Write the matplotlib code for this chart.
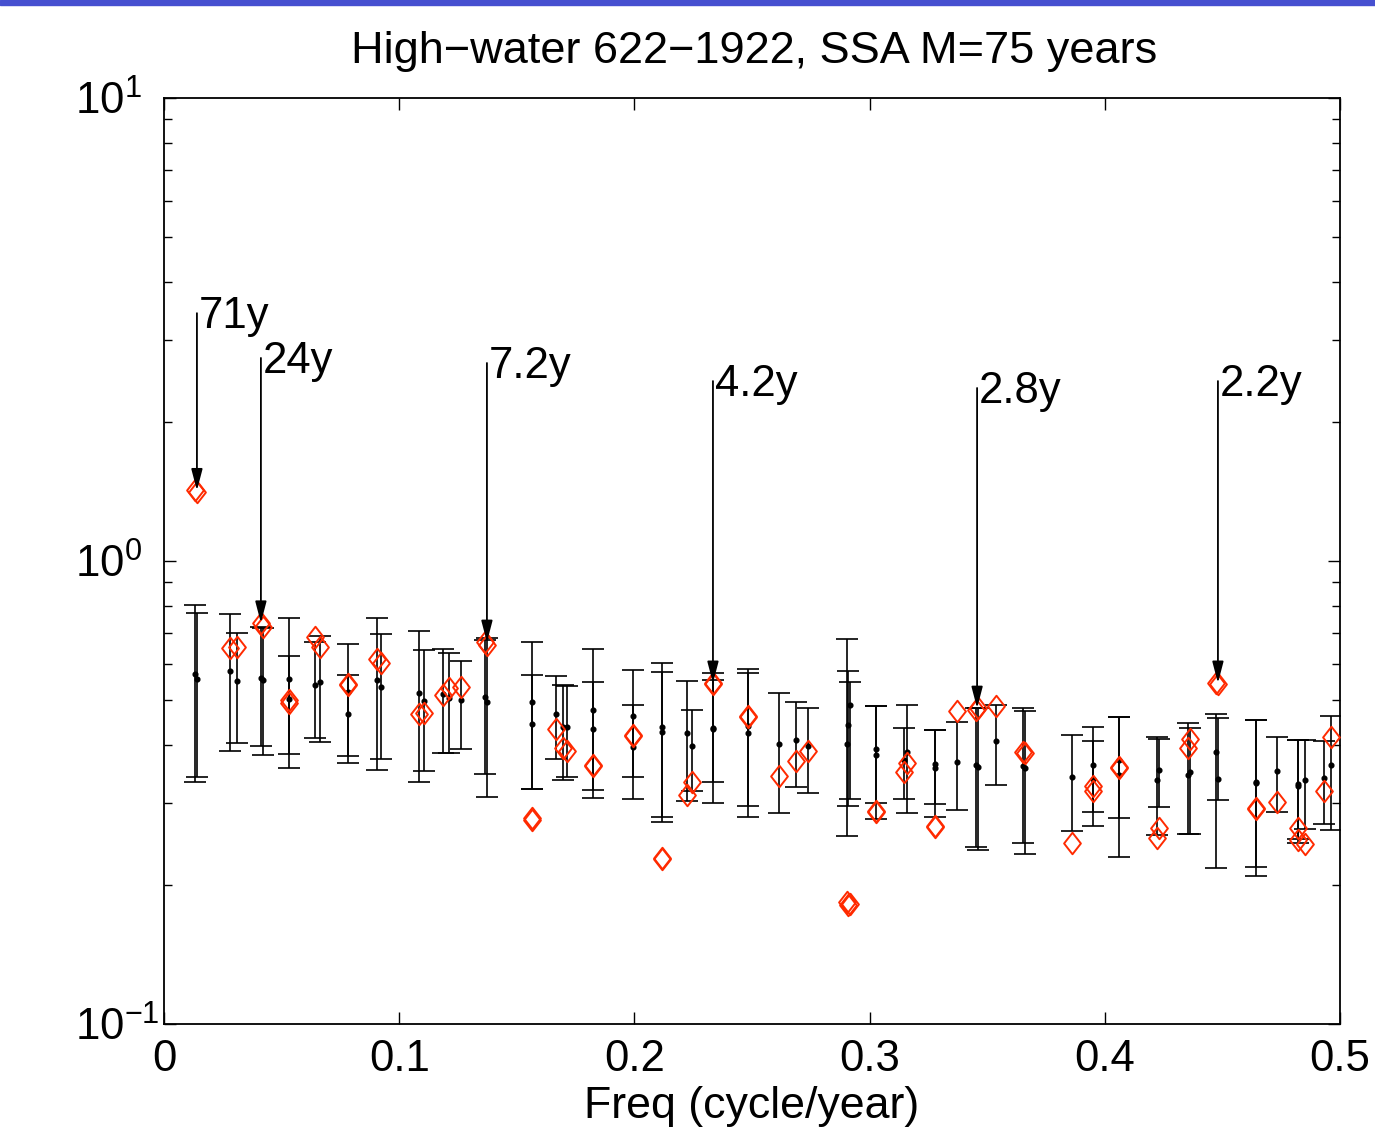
import matplotlib
matplotlib.use("Agg")
import matplotlib.pyplot as plt
import numpy as np
from matplotlib.path import Path
from matplotlib.patches import Rectangle

plt.rcParams['font.family'] = ['Liberation Sans', 'DejaVu Sans']
plt.rcParams['mathtext.fontset'] = 'custom'
plt.rcParams['mathtext.rm'] = 'Liberation Sans'
plt.rcParams['mathtext.it'] = 'Liberation Sans'
plt.rcParams['mathtext.default'] = 'regular'

title = "High\u2212water 622\u22121922, SSA M=75 years"
xlabel = "Freq (cycle/year)"

freq = [0.0132, 0.0140, 0.0281, 0.0310, 0.0412, 0.0421, 0.0531, 0.0532, 0.0642, 0.0663,
        0.0782, 0.0783, 0.0906, 0.0923, 0.1084, 0.1105, 0.1186, 0.1212, 0.1263, 0.1365,
        0.1373, 0.1564, 0.1565, 0.1667, 0.1696, 0.1713, 0.1823, 0.1824, 0.1993, 0.1994,
        0.2117, 0.2118, 0.2224, 0.2245, 0.2333, 0.2334, 0.2482, 0.2483, 0.2615, 0.2687,
        0.2738, 0.2906, 0.2908, 0.2917, 0.3026, 0.3027, 0.3146, 0.3159, 0.3277, 0.3278,
        0.3372, 0.3452, 0.3461, 0.3537, 0.3652, 0.3661, 0.3861, 0.3950, 0.3951, 0.4060,
        0.4061, 0.4222, 0.4230, 0.4354, 0.4362, 0.4473, 0.4481, 0.4642, 0.4643, 0.4732,
        0.4821, 0.4822, 0.4851, 0.4932, 0.4962]

center = [.570, .556, .579, .551, .559, .553, .556, .503, .540, .548,
          .521, .467, .553, .534, .519, .498, .516, .506, .501, .509,
          .496, .496, .444, .467, .438, .438, .477, .434, .463, .397,
          .438, .427, .425, .398, .436, .434, .440, .425, .402, .411,
          .398, .402, .442, .489, .393, .381, .372, .387, .364, .357,
          .368, .363, .359, .409, .361, .357, .342, .363, .338, .372,
          .345, .337, .354, .345, .350, .387, .338, .333, .332, .352,
          .330, .327, .337, .340, .363]

upper = [.804, .772, .768, .699, .720, .717, .753, .624, .668, .689,
         .662, .567, .753, .696, .706, .642, .645, .633, .608, .675,
         .682, .668, .567, .564, .540, .537, .645, .548, .581, .489,
         .602, .576, .551, .477, .573, .553, .584, .573, .519, .496,
         .481, .678, .579, .548, .486, .486, .436, .489, .432, .432,
         .449, .481, .481, .489, .481, .474, .421, .438, .409, .460,
         .460, .417, .413, .447, .436, .467, .458, .453, .453, .417,
         .411, .411, .411, .409, .463]

lower = [.333, .342, .389, .404, .398, .381, .357, .383, .415, .406,
         .366, .379, .354, .374, .333, .352, .385, .385, .393, .347,
         .309, .322, .322, .374, .337, .342, .308, .320, .306, .342,
         .280, .273, .303, .319, .300, .333, .280, .296, .286, .325,
         .315, .255, .296, .306, .300, .277, .306, .286, .299, .280,
         .290, .241, .238, .328, .246, .233, .261, .287, .268, .279,
         .229, .256, .294, .257, .257, .217, .305, .218, .209, .287,
         .251, .246, .264, .270, .262]

diamond = [1.42, 1.41, .649, .652, .735, .720, .493, .501, .686, .652,
           .542, .540, .614, .602, .467, .470, .514, .532, .534, .668,
           .659, .279, .276, .434, .395, .389, .363, .361, .421, .419,
           .228, .227, .312, .333, .545, .543, .463, .460, .343, .370,
           .389, .183, .181, .182, .288, .287, .350, .366, .268, .267,
           .474, .477, .481, .486, .387, .385, .246, .327, .319, .359,
           .357, .252, .265, .395, .413, .545, .543, .293, .292, .302,
           .265, .250, .245, .319, .417]

ann_labels = ['71y', '24y', '7.2y', '4.2y', '2.8y', '2.2y']
ann_freq = [0.0140, 0.0412, 0.1373, 0.2334, 0.3457, 0.4481]
ann_tail = [3.43, 2.745, 2.677, 2.447, 2.364, 2.447]
ann_head = [1.42, 0.735, 0.668, 0.545, 0.481, 0.545]

xticks = [0, 0.1, 0.2, 0.3, 0.4, 0.5]
xtick_labels = ['0', '0.1', '0.2', '0.3', '0.4', '0.5']
yticks = [0.1, 1, 10]
ytick_labels = [r'$10^{-1}$', r'$10^{0}$', r'$10^{1}$']

FS = 31.5
RED = '#ff2a00'

fig = plt.figure(figsize=(13.75, 11.39), dpi=100)
fig.patch.set_facecolor('white')
ax = fig.add_axes([164/1375, 1 - 1024/1139, (1340-164)/1375, (1024-98)/1139])

f = np.array(freq)
c = np.array(center)
lo = np.array(lower)
hi = np.array(upper)
ax.errorbar(f, c, yerr=[c - lo, hi - c], fmt='o', color='k', ms=3.4,
            elinewidth=1.2, capsize=7.8, capthick=1.2, zorder=2)

dpath = Path([(0, 1), (0.78, 0), (0, -1), (-0.78, 0), (0, 1)],
             [Path.MOVETO, Path.LINETO, Path.LINETO, Path.LINETO, Path.CLOSEPOLY])
ax.plot(f, diamond, linestyle='none', marker=dpath, ms=15.5, mfc='none',
        mec=RED, mew=1.4, zorder=3)

for lab, x, yt, yh in zip(ann_labels, ann_freq, ann_tail, ann_head):
    ax.annotate('', xy=(x, yh), xytext=(x, yt),
                arrowprops=dict(arrowstyle='-|>,head_length=0.65,head_width=0.17',
                                mutation_scale=20, color='k', lw=1.3,
                                shrinkA=0, shrinkB=0), zorder=4)
    ax.annotate(lab, xy=(x, yt), xytext=(1.5, -2.5), textcoords='offset points',
                ha='left', va='center', fontsize=FS, zorder=5)

ax.set_yscale('log')
ax.set_ylim(0.1, 10)
ax.set_xlim(0, 0.5)
ax.set_xticks(xticks)
ax.set_xticklabels(xtick_labels)
ax.set_yticks(yticks)
ax.set_yticklabels(ytick_labels)
ax.yaxis.set_minor_locator(matplotlib.ticker.LogLocator(base=10, subs=np.arange(2, 10)))
ax.yaxis.set_minor_formatter(matplotlib.ticker.NullFormatter())
ax.tick_params(which='major', direction='in', length=8.5, width=1.0,
               top=True, right=True, labelsize=FS)
ax.tick_params(which='minor', direction='in', length=5.5, width=1.0,
               top=True, right=True)
ax.tick_params(axis='y', which='major', pad=(164 - 75) / 1.389)
for t in ax.get_yticklabels():
    t.set_horizontalalignment('left')
ax.tick_params(axis='x', which='major', pad=11)
for s in ax.spines.values():
    s.set_linewidth(1.3)

ax.set_xlabel(xlabel, fontsize=32.2, labelpad=4)
fig.text(754/1375, 1 - 63/1139, title, ha='center', va='baseline', fontsize=32.5)

fig.add_artist(Rectangle((0, 1 - 5/1139), 1, 5/1139, transform=fig.transFigure,
                         color='#4650d0', zorder=10))

fig.savefig('out.png', dpi=100)
